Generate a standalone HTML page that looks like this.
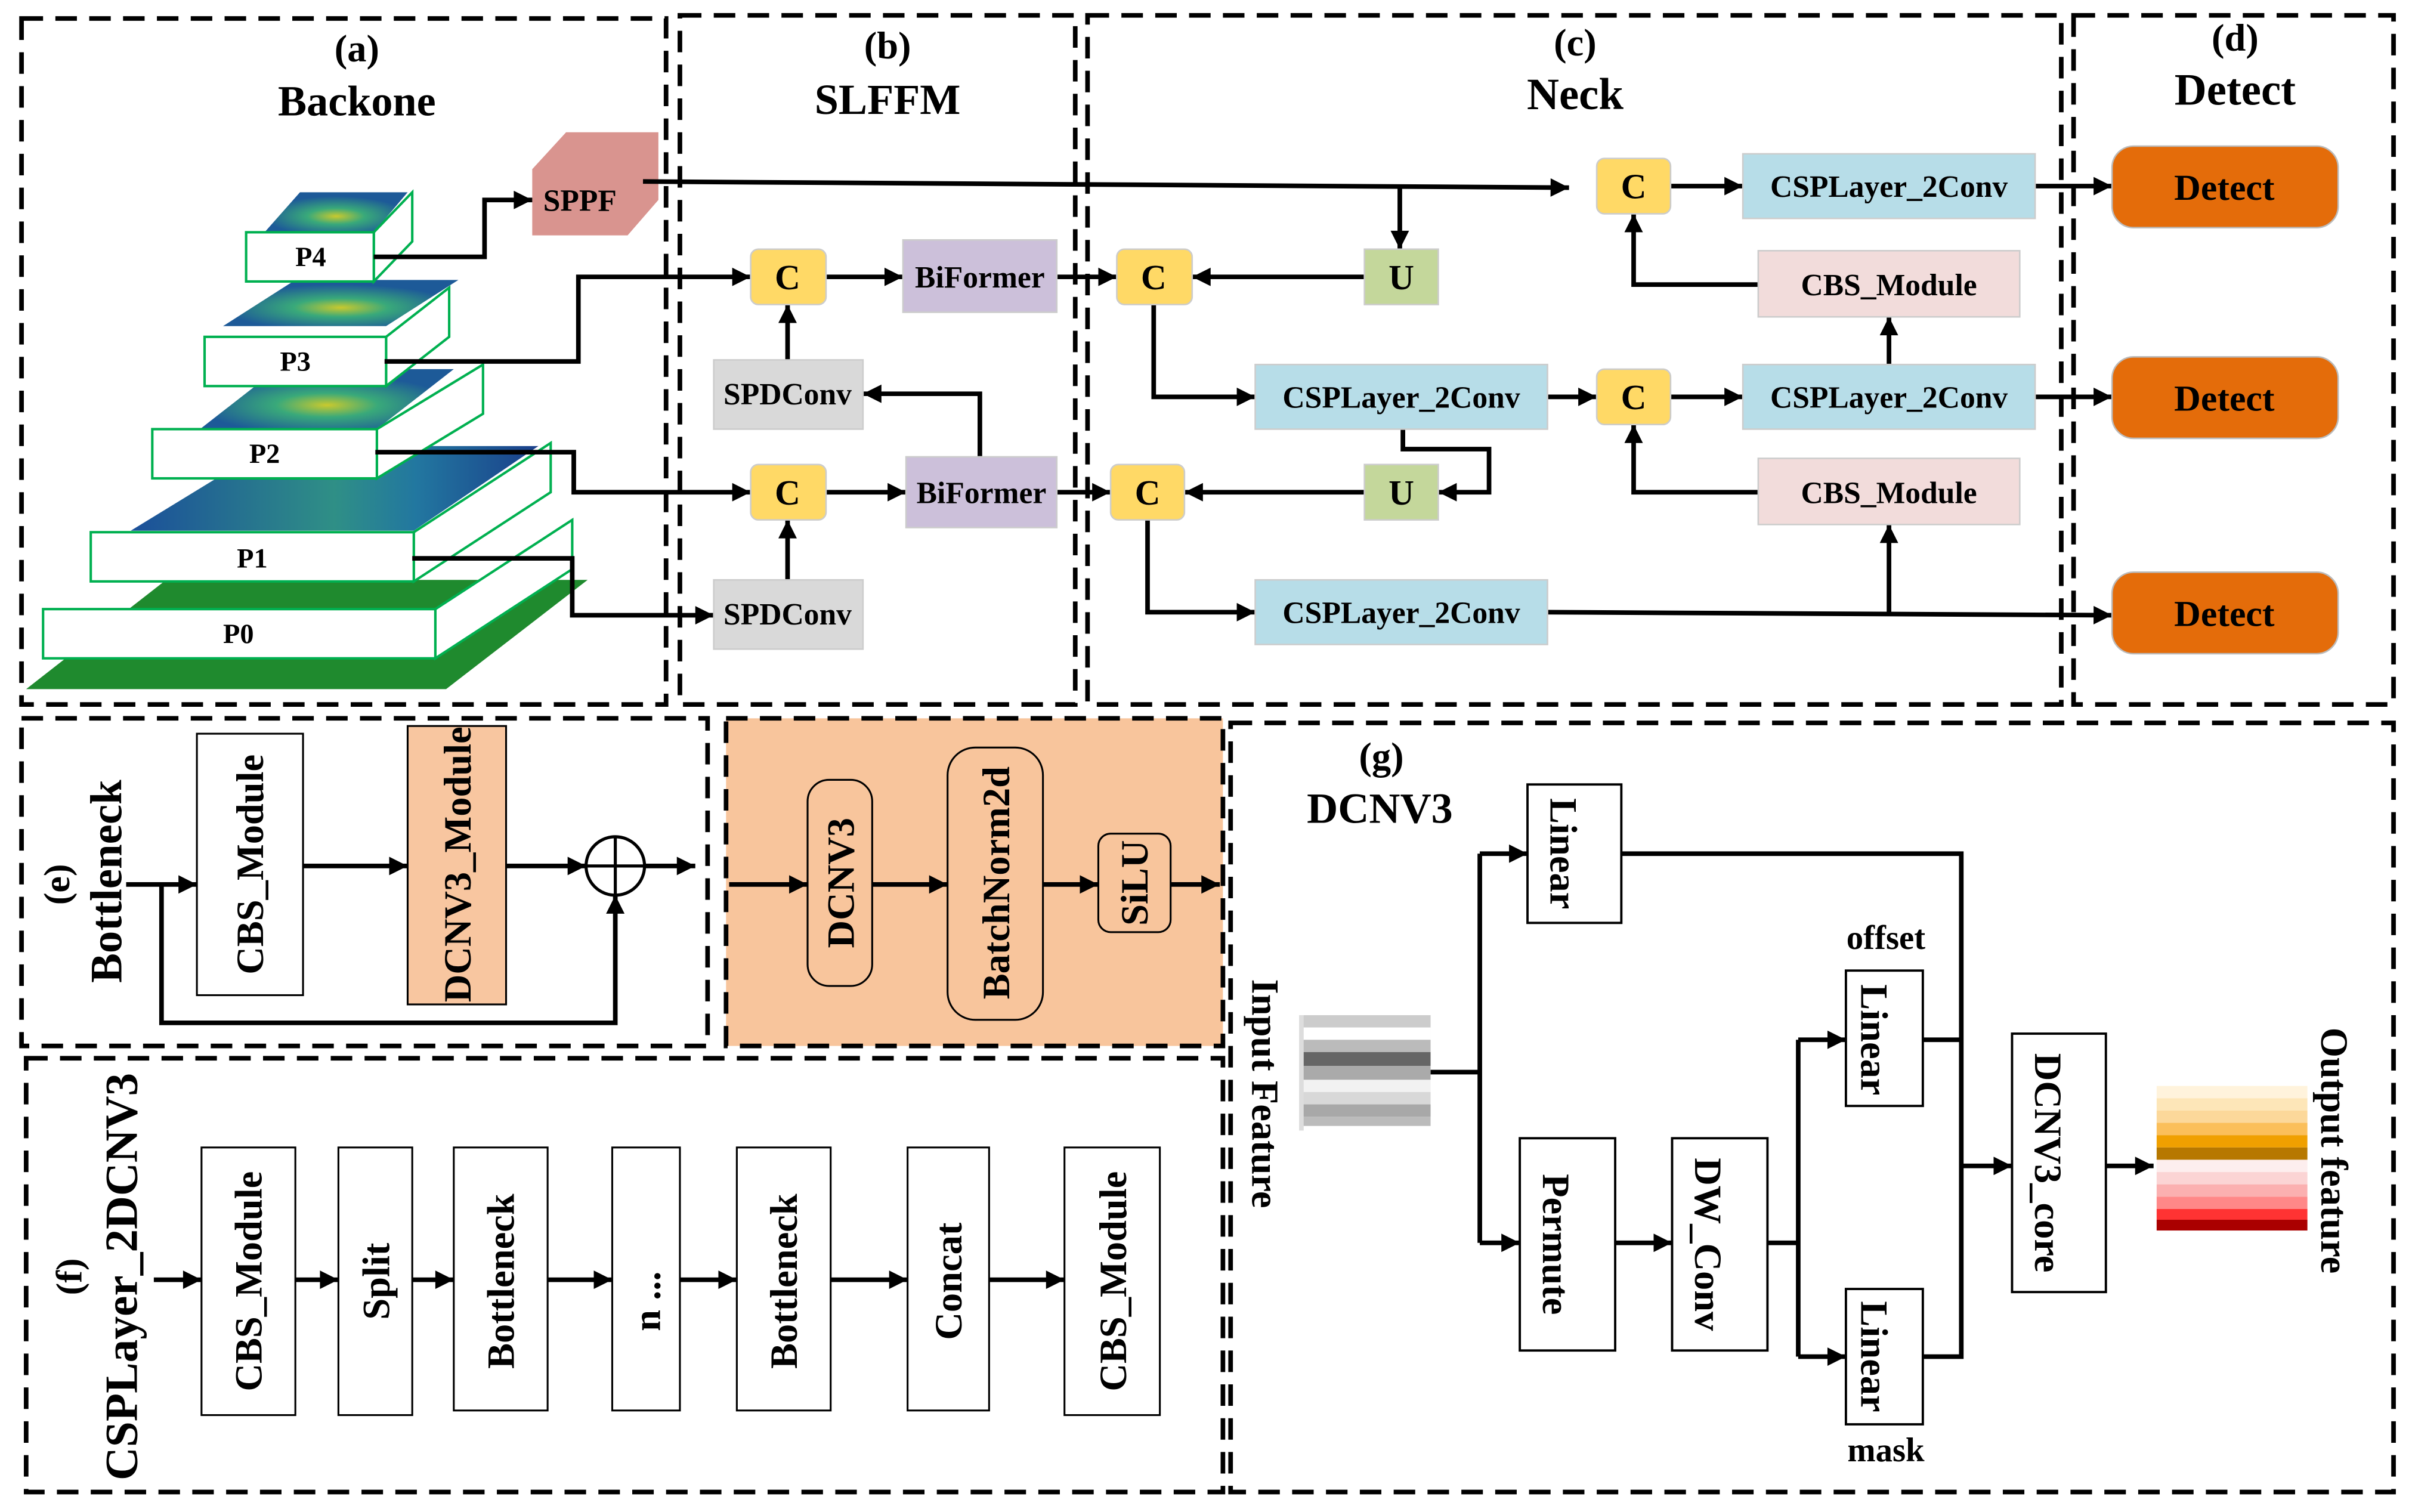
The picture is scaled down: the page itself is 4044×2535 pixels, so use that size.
<!DOCTYPE html>
<html><head><meta charset="utf-8"><style>
html,body{margin:0;padding:0;background:#fff;}
svg{display:block;}
text{font-family:"Liberation Serif",serif;font-weight:bold;fill:#000;}
</style></head><body>
<svg width="4044" height="2535" viewBox="0 0 1568 983" preserveAspectRatio="none" xmlns="http://www.w3.org/2000/svg">
<defs>
<marker id="b" viewBox="0 0 10 10" refX="10" refY="5" markerWidth="14" markerHeight="12" orient="auto" markerUnits="userSpaceOnUse">
<path d="M0,0 L10,5 L0,10 z" fill="#000"/></marker>
<linearGradient id="hm" x1="0" y1="0" x2="1" y2="0"><stop offset="0" stop-color="#1b4f9a"/><stop offset="0.5" stop-color="#2f8f86"/><stop offset="0.7" stop-color="#2277a0"/><stop offset="1" stop-color="#1a3f8a"/></linearGradient>
<radialGradient id="hm2" cx="0.5" cy="0.6" r="0.5"><stop offset="0" stop-color="#c9c92e"/><stop offset="0.4" stop-color="#39a97a"/><stop offset="1" stop-color="#1d5a98"/></radialGradient>
</defs>
<g fill="none" stroke="#000" stroke-width="3" stroke-dasharray="14,8">
<rect x="14" y="12" width="419" height="446"/>
<rect x="442" y="10" width="257" height="448"/>
<rect x="707" y="10" width="633" height="448"/>
<rect x="1348" y="10" width="208" height="448"/>
<rect x="14" y="467" width="446" height="213"/>
<rect x="472" y="467" width="323" height="213" fill="#f8c59c"/>
<rect x="17" y="688" width="778" height="282"/>
<rect x="800" y="470" width="756" height="500"/>
</g>
<g font-size="25" text-anchor="middle">
<text x="232" y="40">(a)</text><text x="232" y="75" font-size="28">Backone</text>
<text x="577" y="38">(b)</text><text x="577" y="74" font-size="28">SLFFM</text>
<text x="1024" y="36">(c)</text><text x="1024" y="71" font-size="29">Neck</text>
<text x="1453" y="33">(d)</text><text x="1453" y="68" font-size="29">Detect</text>
</g>
<polygon points="17,448 290,448 382,377 108,377" fill="#1f8a2e"/>
<polygon points="85,345 269,345 350,290 175,290" fill="url(#hm)"/>
<polygon points="130,279 245,279 295,240 180,240" fill="url(#hm2)"/>
<polygon points="145,212 251,212 298,182 192,182" fill="url(#hm2)"/>
<polygon points="172,151 243,151 265,125 195,125" fill="url(#hm2)"/>
<g stroke="#00b050" stroke-width="1.6" fill="#fff">
<polygon points="283,396 372,338 372,370 283,428"/><rect x="28" y="396" width="255" height="32"/>
<polygon points="269,346 358,288 358,320 269,378"/><rect x="59" y="346" width="210" height="32"/>
<polygon points="245,279 314,237 314,269 245,311"/><rect x="99" y="279" width="146" height="32"/>
<polygon points="251,219 292,187 292,219 251,251"/><rect x="133" y="219" width="118" height="32"/>
<polygon points="243,151 268,125 268,157 243,183"/><rect x="160" y="151" width="83" height="32"/>
</g>
<g font-size="18" text-anchor="middle">
<text x="155" y="418">P0</text><text x="164" y="369">P1</text><text x="172" y="301">P2</text><text x="192" y="241">P3</text><text x="202" y="173">P4</text>
</g>
<polygon points="346,110 368,86 428,86 428,130 408,153 346,153" fill="#d9948f"/>
<text x="377" y="137" font-size="20" text-anchor="middle">SPPF</text>
<g fill="none" stroke="#000" stroke-width="3" marker-end="url(#b)">
<polyline points="243,167 315,167 315,130 346,130"/>
<polyline points="250,235 376,235 376,180 488,180"/>
<polyline points="244,294 373,294 373,320 488,320"/>
<polyline points="268,363 372,363 372,400 464,400"/>
<polyline points="418,118 1020,122"/>
<polyline points="910,121 910,162"/>
<polyline points="512,234 512,198"/>
<polyline points="512,377 512,338"/>
<polyline points="537,180 587,180"/>
<polyline points="537,320 589,320"/>
<polyline points="637,297 637,256 561,256"/>
<polyline points="687,180 726,180"/>
<polyline points="687,320 722,320"/>
<polyline points="887,180 775,180"/>
<polyline points="887,320 770,320"/>
<polyline points="750,198 750,258 816,258"/>
<polyline points="746,338 746,398 816,398"/>
<polyline points="912,279 912,292 968,292 968,320 935,320"/>
<polyline points="1006,258 1038,258"/>
<polyline points="1086,258 1133,258"/>
<polyline points="1086,121 1133,121"/>
<polyline points="1006,398 1373,400"/>
<polyline points="1228,398 1228,341"/>
<polyline points="1143,320 1062,320 1062,276"/>
<polyline points="1228,237 1228,206"/>
<polyline points="1143,185 1062,185 1062,139"/>
<polyline points="1323,121 1373,121"/>
<polyline points="1323,258 1373,258"/>
</g>
<g stroke="#ccc" stroke-width="1">
<rect x="488" y="162" width="49" height="36" rx="5" fill="#ffd966"/>
<rect x="488" y="302" width="49" height="36" rx="5" fill="#ffd966"/>
<rect x="726" y="162" width="49" height="36" rx="5" fill="#ffd966"/>
<rect x="722" y="302" width="48" height="36" rx="5" fill="#ffd966"/>
<rect x="1038" y="240" width="48" height="36" rx="5" fill="#ffd966"/>
<rect x="1038" y="103" width="48" height="36" rx="5" fill="#ffd966"/>
<rect x="887" y="162" width="48" height="36" fill="#c4d79b"/>
<rect x="887" y="302" width="48" height="36" fill="#c4d79b"/>
<rect x="587" y="156" width="100" height="47" fill="#ccc0da"/>
<rect x="589" y="297" width="98" height="46" fill="#ccc0da"/>
<rect x="464" y="234" width="97" height="45" fill="#d9d9d9"/>
<rect x="464" y="377" width="97" height="45" fill="#d9d9d9"/>
<rect x="816" y="237" width="190" height="42" fill="#b7dde8"/>
<rect x="816" y="377" width="190" height="42" fill="#b7dde8"/>
<rect x="1133" y="237" width="190" height="42" fill="#b7dde8"/>
<rect x="1133" y="100" width="190" height="42" fill="#b7dde8"/>
<rect x="1143" y="163" width="170" height="43" fill="#f2dcdb"/>
<rect x="1143" y="298" width="170" height="43" fill="#f2dcdb"/>
</g>
<g fill="#e46c0a" stroke="#bbb" stroke-width="1">
<rect x="1373" y="95" width="147" height="53" rx="14"/>
<rect x="1373" y="232" width="147" height="53" rx="14"/>
<rect x="1373" y="372" width="147" height="53" rx="14"/>
</g>
<g text-anchor="middle" font-size="23">
<text x="512" y="188">C</text><text x="512" y="328">C</text><text x="750" y="188">C</text><text x="746" y="328">C</text>
<text x="1062" y="266">C</text><text x="1062" y="129">C</text><text x="911" y="188">U</text><text x="911" y="328">U</text>
</g>
<g text-anchor="middle" font-size="20">
<text x="637" y="187">BiFormer</text><text x="638" y="327">BiFormer</text>
<text x="512" y="263">SPDConv</text><text x="512" y="406">SPDConv</text>
<text x="911" y="265">CSPLayer_2Conv</text><text x="911" y="405">CSPLayer_2Conv</text>
<text x="1228" y="265">CSPLayer_2Conv</text><text x="1228" y="128">CSPLayer_2Conv</text>
<text x="1228" y="192">CBS_Module</text><text x="1228" y="327">CBS_Module</text>
<text x="1446" y="130" font-size="24">Detect</text><text x="1446" y="267" font-size="24">Detect</text><text x="1446" y="407" font-size="24">Detect</text>
</g>
<text transform="translate(79,573) rotate(-90)" text-anchor="middle" font-size="29">Bottleneck</text>
<text transform="translate(45,575) rotate(-90)" text-anchor="middle" font-size="24">(e)</text>
<rect x="128" y="477" width="69" height="170" fill="#fff" stroke="#000" stroke-width="1.2"/>
<rect x="265" y="472" width="64" height="181" fill="#f8c6a0" stroke="#000" stroke-width="1.2"/>
<circle cx="400" cy="563" r="19" fill="#fff" stroke="#000" stroke-width="2"/>
<path d="M381,563 H419 M400,544 V582" stroke="#000" stroke-width="2"/>
<g fill="none" stroke="#000" stroke-width="3" marker-end="url(#b)">
<polyline points="82,575 128,575"/><polyline points="197,563 265,563"/><polyline points="329,563 381,563"/><polyline points="419,563 452,563"/>
<polyline points="105,575 105,665 400,665 400,582"/>
<polyline points="474,575 525,575"/><polyline points="567,575 616,575"/><polyline points="678,575 714,575"/><polyline points="761,575 793,575"/>
</g>
<rect x="525" y="507" width="42" height="134" rx="14" fill="none" stroke="#000" stroke-width="1.2"/>
<rect x="616" y="486" width="62" height="177" rx="18" fill="none" stroke="#000" stroke-width="1.2"/>
<rect x="714" y="542" width="47" height="64" rx="8" fill="none" stroke="#000" stroke-width="1.2"/>
<g text-anchor="middle" font-size="25">
<text transform="translate(171,562) rotate(-90)">CBS_Module</text>
<text transform="translate(306,562) rotate(-90)">DCNV3_Module</text>
<text transform="translate(555,574) rotate(-90)">DCNV3</text>
<text transform="translate(656,574) rotate(-90)">BatchNorm2d</text>
<text transform="translate(746,574) rotate(-90)">SiLU</text>
</g>
<text transform="translate(89,830) rotate(-90)" text-anchor="middle" font-size="30">CSPLayer_2DCNV3</text>
<text transform="translate(53,830) rotate(-90)" text-anchor="middle" font-size="24">(f)</text>
<g fill="#fff" stroke="#000" stroke-width="1.2">
<rect x="131" y="746" width="61" height="174"/><rect x="220" y="746" width="48" height="174"/><rect x="295" y="746" width="61" height="171"/>
<rect x="398" y="746" width="44" height="171"/><rect x="479" y="746" width="61" height="171"/><rect x="590" y="746" width="53" height="171"/><rect x="692" y="746" width="62" height="174"/>
</g>
<g fill="none" stroke="#000" stroke-width="3" marker-end="url(#b)">
<polyline points="100,832 131,832"/><polyline points="192,832 220,832"/><polyline points="268,832 295,832"/><polyline points="356,832 398,832"/>
<polyline points="442,832 479,832"/><polyline points="540,832 590,832"/><polyline points="643,832 692,832"/>
</g>
<g text-anchor="middle" font-size="25">
<text transform="translate(170,833) rotate(-90)">CBS_Module</text>
<text transform="translate(253,833) rotate(-90)">Split</text>
<text transform="translate(334,833) rotate(-90)">Bottleneck</text>
<text transform="translate(429,846) rotate(-90)">n ...</text>
<text transform="translate(518,833) rotate(-90)">Bottleneck</text>
<text transform="translate(625,833) rotate(-90)">Concat</text>
<text transform="translate(732,833) rotate(-90)">CBS_Module</text>
</g>
<text x="898" y="500" font-size="25" text-anchor="middle">(g)</text>
<text x="897" y="535" font-size="28" text-anchor="middle">DCNV3</text>
<g fill="#fff" stroke="#000" stroke-width="1.5">
<rect x="993" y="510" width="61" height="90"/><rect x="988" y="740" width="62" height="138"/><rect x="1087" y="740" width="62" height="138"/>
<rect x="1200" y="631" width="50" height="88"/><rect x="1200" y="838" width="50" height="88"/><rect x="1308" y="672" width="61" height="168"/>
</g>
<g fill="none" stroke="#000" stroke-width="3">
<polyline points="930,697 962,697"/>
<polyline points="962,555 962,808"/>
<polyline points="962,555 993,555" marker-end="url(#b)"/>
<polyline points="962,808 988,808" marker-end="url(#b)"/>
<polyline points="1050,808 1087,808" marker-end="url(#b)"/>
<polyline points="1149,808 1169,808"/>
<polyline points="1169,676 1169,882"/>
<polyline points="1169,676 1200,676" marker-end="url(#b)"/>
<polyline points="1169,882 1200,882" marker-end="url(#b)"/>
<polyline points="1054,555 1275,555 1275,882 1250,882"/>
<polyline points="1250,676 1275,676"/>
<polyline points="1275,758 1308,758" marker-end="url(#b)"/>
<polyline points="1369,758 1400,758" marker-end="url(#b)"/>
</g>
<g>
<rect x="846" y="660" width="84" height="72" fill="#e8e8e8"/>
<rect x="846" y="660" width="84" height="8" fill="#ccc"/><rect x="846" y="668" width="84" height="8" fill="#fff"/><rect x="846" y="676" width="84" height="8" fill="#bbb"/>
<rect x="846" y="684" width="84" height="9" fill="#666"/><rect x="846" y="693" width="84" height="9" fill="#aaa"/><rect x="846" y="702" width="84" height="8" fill="#f2f2f2"/>
<rect x="846" y="710" width="84" height="8" fill="#d8d8d8"/><rect x="846" y="718" width="84" height="8" fill="#a8a8a8"/><rect x="846" y="726" width="84" height="6" fill="#bbb"/>
<path d="M846,660 V735" stroke="#ddd" stroke-width="3"/>
</g>
<g>
<rect x="1402" y="706" width="98" height="8" fill="#fff3dc"/><rect x="1402" y="714" width="98" height="8" fill="#fde6b8"/><rect x="1402" y="722" width="98" height="8" fill="#fcd89a"/>
<rect x="1402" y="730" width="98" height="8" fill="#fbbf5a"/><rect x="1402" y="738" width="98" height="8" fill="#f0a000"/><rect x="1402" y="746" width="98" height="8" fill="#b77800"/>
<rect x="1402" y="754" width="98" height="8" fill="#fdeeee"/><rect x="1402" y="762" width="98" height="8" fill="#fbd4d4"/><rect x="1402" y="770" width="98" height="8" fill="#fbb0b0"/>
<rect x="1402" y="778" width="98" height="8" fill="#f88"/><rect x="1402" y="786" width="98" height="7" fill="#f33"/><rect x="1402" y="793" width="98" height="7" fill="#a00"/>
</g>
<g text-anchor="middle" font-size="25">
<text transform="translate(1017,555) rotate(90)" dy="9">Linear</text>
<text transform="translate(1012,809) rotate(90)" dy="9">Permute</text>
<text transform="translate(1111,809) rotate(90)" dy="9">DW_Conv</text>
<text transform="translate(1219,676) rotate(90)" dy="9">Linear</text>
<text transform="translate(1219,882) rotate(90)" dy="9">Linear</text>
<text transform="translate(1332,756) rotate(90)" dy="9">DCNV3_core</text>
<text transform="translate(823,711) rotate(90)" dy="9">Input Feature</text>
<text transform="translate(1518,748) rotate(90)" dy="9">Output feature</text>
<text x="1226" y="617" font-size="22">offset</text>
<text x="1226" y="950" font-size="22">mask</text>
</g>
</svg>
</body></html>
